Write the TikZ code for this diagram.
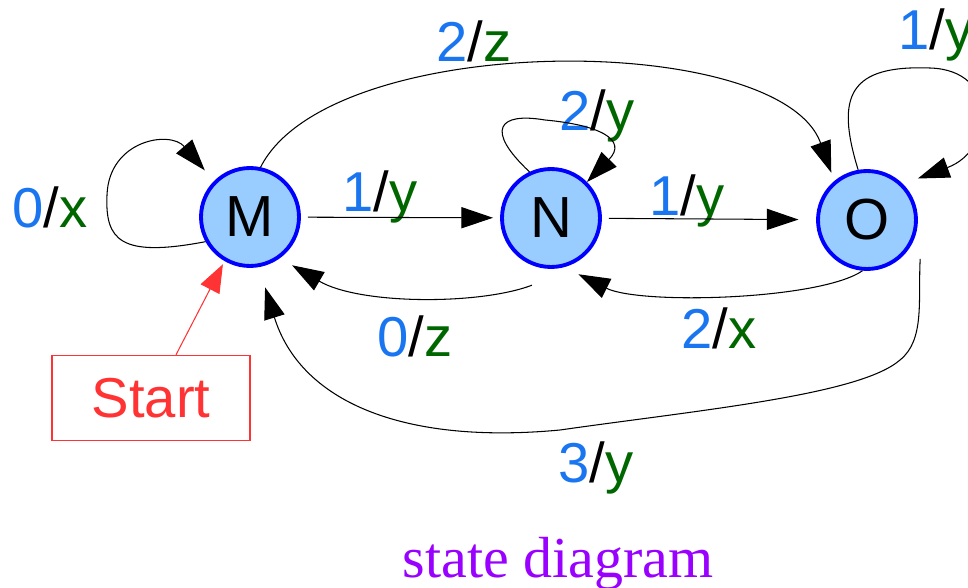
\documentclass[tikz,border=0pt]{standalone}
\usepackage{fontspec}
\setmainfont{Liberation Sans}
\newfontfamily\capfont{Liberation Serif}
\usetikzlibrary{arrows.meta}
\definecolor{inp}{HTML}{1A75F0}
\definecolor{outp}{HTML}{006600}
\definecolor{stfill}{HTML}{99CCFF}
\definecolor{stdraw}{HTML}{0000FF}
\definecolor{startc}{HTML}{FF3333}
\definecolor{capc}{HTML}{9900FF}
\newcommand{\io}[2]{\textcolor{inp}{#1}/\textcolor{outp}{#2}}
\tikzset{
  state/.style={circle,draw=stdraw,fill=stfill,line width=2.2pt,minimum size=1.96cm,inner sep=0pt,font=\fontsize{33}{38}\selectfont},
  lbl/.style={anchor=base,inner sep=0pt,font=\fontsize{32}{38}\selectfont},
  arr/.style={-{Triangle[length=18pt,width=12pt]},line width=0.6pt,black},
  startbox/.style={draw=startc,line width=0.8pt,text=startc,minimum width=3.96cm,minimum height=1.7cm,font=\fontsize{32}{38}\selectfont},
}

\begin{document}
\begin{tikzpicture}[x=0.02cm,y=-0.02cm]
\useasboundingbox (0,0) rectangle (968,588);
\node[state] (M) at (250,217) {M};
\node[state] (N) at (551,218) {N};
\node[state] (O) at (867,220) {O};
\node[startbox] (start) at (151,398) {Start};
\node[lbl] (l00) at (50,228) {\io{0}{x}};
\node[lbl] (l01) at (380,212) {\io{1}{y}};
\node[lbl] (l02) at (597,131) {\io{2}{y}};
\node[lbl] (l03) at (687,215) {\io{1}{y}};
\node[lbl] (l04) at (936,50) {\io{1}{y}};
\node[lbl] (l05) at (474,62) {\io{2}{z}};
\node[lbl] (l06) at (415,357) {\io{0}{z}};
\node[lbl] (l07) at (719,348) {\io{2}{x}};
\node[lbl] (l08) at (596,482) {\io{3}{y}};
\node[lbl,text=capc,font=\capfont\fontsize{33}{38}\selectfont] (cap) at (558,577) {state diagram};
% self loops
\draw[arr,shorten >=8pt] (M.209) .. controls (120,258) and (105,240) .. (107,195)
  .. controls (109,140) and (170,130) .. (M.135);
\draw[arr] (N.115) .. controls (485,130) and (498,112) .. (545,120)
  .. controls (600,125) and (628,140) .. (N.45);
\draw[arr,shorten >=9pt] (O.100) .. controls (835,95) and (850,65) .. (930,68)
  .. controls (1000,70) and (995,150) .. (O.45);
% forward
\draw[arr,shorten <=4pt,shorten >=4pt] (M) -- (N);
\draw[arr,shorten <=4pt,shorten >=10pt] (N) -- (O);
\draw[arr,shorten >=5pt] (M.78) .. controls (330,30) and (780,30) .. (O.130);
% back
\draw[arr,shorten >=8pt] (N.-112) ++(0,20) .. controls (480,305) and (360,305) .. (M.-54);
\draw[arr,shorten >=9pt] (O.-95) .. controls (820,300) and (640,305) .. (N.-75);
\draw[arr,shorten >=12pt] (O.-36) ++(12,9) .. controls (918,300) and (925,340) .. (900,360)
  .. controls (860,395) and (700,410) .. (560,430)
  .. controls (400,445) and (300,400) .. (M.-80);
\draw[arr,startc,-{Triangle[length=16pt,width=12pt]},shorten >=2pt] (start.north) ++(25,0) -- (M.-120);
\end{tikzpicture}
\end{document}
